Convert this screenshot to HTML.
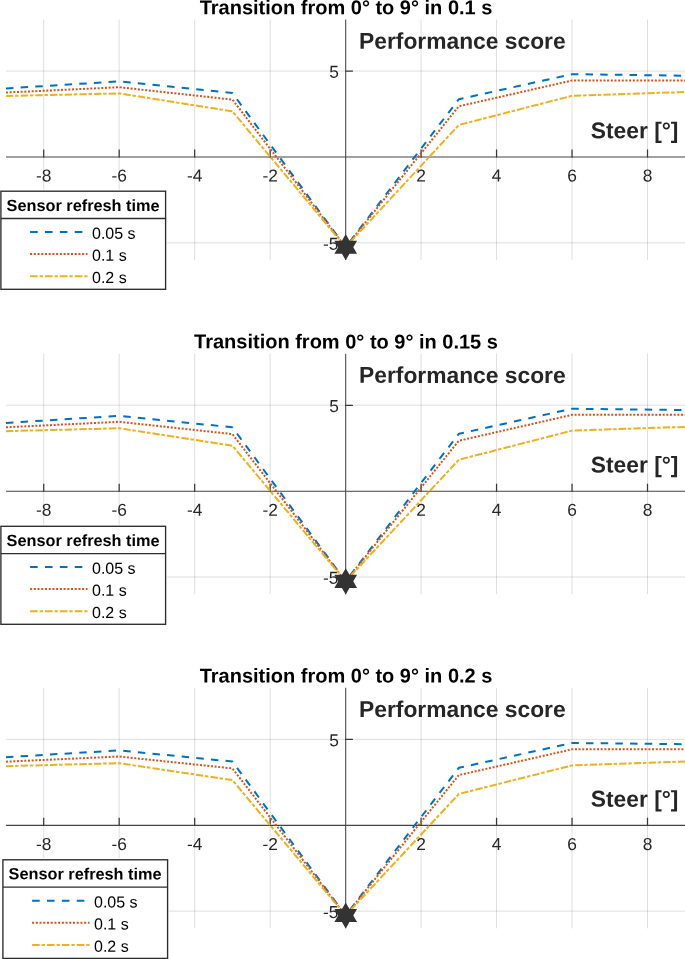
<!DOCTYPE html>
<html><head><meta charset="utf-8"><title>Performance score</title>
<style>
html,body{margin:0;padding:0;background:#fff;}
body{width:685px;height:959px;overflow:hidden;}
svg{display:block;font-family:"Liberation Sans",sans-serif;will-change:transform;}
.t{font-weight:bold;font-size:20px;fill:#000;text-anchor:middle;}
.tk{font-size:17.33px;fill:#262626;}
.lb{font-weight:bold;font-size:22.8px;fill:#262626;}
.lt{font-weight:bold;font-size:16.3px;fill:#000;}
.le{font-size:16px;fill:#000;}
</style></head><body>
<svg width="685" height="959" viewBox="0 0 685 959">
<rect width="685" height="959" fill="#fff"/>
<g>
<path d="M43.71 19.55V260.00M119.18 19.55V260.00M194.66 19.55V260.00M270.13 19.55V260.00M421.09 19.55V260.00M496.56 19.55V260.00M572.04 19.55V260.00M647.51 19.55V260.00" stroke="#262626" stroke-opacity="0.15" stroke-width="1.0" fill="none"/>
<path d="M5.97 71.07H685M5.97 242.82H685" stroke="#262626" stroke-opacity="0.15" stroke-width="1.0" fill="none"/>
<text class="t" x="346.01" y="14.25" transform="rotate(0.03 346.0 14.2)">Transition from 0° to 9° in 0.1 s</text>
<path d="M5.97 157.05H685M345.70 19.55V260.00" stroke="#444" stroke-width="1.05" fill="none"/>
<path d="M43.71 157.55V149.55M119.18 157.55V149.55M194.66 157.55V149.55M270.13 157.55V149.55M421.09 157.55V149.55M496.56 157.55V149.55M572.04 157.55V149.55M647.51 157.55V149.55M345.20 71.15H352.90M345.20 242.91H352.90" stroke="#383838" stroke-width="1.25" fill="none"/>
<text class="tk" text-anchor="middle" x="43.71" y="181.60" transform="rotate(0.03 43.7 181.6)">-8</text>
<text class="tk" text-anchor="middle" x="119.18" y="181.60" transform="rotate(0.03 119.2 181.6)">-6</text>
<text class="tk" text-anchor="middle" x="194.66" y="181.60" transform="rotate(0.03 194.7 181.6)">-4</text>
<text class="tk" text-anchor="middle" x="270.13" y="181.60" transform="rotate(0.03 270.1 181.6)">-2</text>
<text class="tk" text-anchor="middle" x="421.09" y="181.60" transform="rotate(0.03 421.1 181.6)">2</text>
<text class="tk" text-anchor="middle" x="496.56" y="181.60" transform="rotate(0.03 496.6 181.6)">4</text>
<text class="tk" text-anchor="middle" x="572.04" y="181.60" transform="rotate(0.03 572.0 181.6)">6</text>
<text class="tk" text-anchor="middle" x="647.51" y="181.60" transform="rotate(0.03 647.5 181.6)">8</text>
<text class="tk" text-anchor="end" x="339.01" y="77.87" transform="rotate(0.03 339.0 77.9)">5</text>
<text class="tk" text-anchor="end" x="338.31" y="249.72" transform="rotate(0.03 338.3 249.7)">-5</text>
<text class="lb" x="359.10" y="48.77" transform="rotate(0.03 460.0 48.8)">Performance score</text>
<text class="lb" x="590.80" y="138.35" transform="rotate(0.03 634.0 138.3)">Steer [°]</text>
<polyline points="5.97,88.42 119.18,81.38 232.40,93.06 345.61,247.20 458.82,99.24 572.04,74.17 685.25,75.71" fill="none" stroke="#0072BD" stroke-width="2.0" stroke-dasharray="7.5 7.185" stroke-linejoin="round"/>
<polyline points="5.97,92.54 119.18,87.22 232.40,99.59 345.61,247.20 458.82,106.28 572.04,80.52 685.25,80.52" fill="none" stroke="#D95319" stroke-width="2.0" stroke-dasharray="2 1.671" stroke-linejoin="round"/>
<polyline points="5.97,95.98 119.18,93.40 232.40,111.33 345.61,247.20 458.82,125.00 572.04,95.81 685.25,92.03" fill="none" stroke="#EDB120" stroke-width="2.0" stroke-dasharray="7.4 1.7 3.5 2.085" stroke-linejoin="round"/>
<polygon points="345.71,234.10 349.49,240.65 357.05,240.65 353.27,247.20 357.05,253.75 349.49,253.75 345.71,260.30 341.93,253.75 334.37,253.75 338.15,247.20 334.37,240.65 341.93,240.65" fill="#333"/>
<rect x="0.9" y="191.2" width="164.7" height="98.1" fill="#fff" stroke="#fff" stroke-width="3.2"/>
<rect x="0.9" y="191.2" width="164.7" height="98.1" fill="#fff" stroke="#2c2c2c" stroke-width="1.35"/>
<path d="M0.9 218.5H165.6" stroke="#2c2c2c" stroke-width="1.35"/>
<text class="lt" x="6.60" y="211.10" transform="rotate(0.03 83.0 211.1)">Sensor refresh time</text>
<path d="M30.1 232.10H87.5" stroke="#0072BD" stroke-width="2.0" stroke-dasharray="7.6 7.28" fill="none"/>
<text class="le" x="92.00" y="238.80" transform="rotate(0.03 92.0 238.8)">0.05 s</text>
<path d="M30.1 254.00H87.5" stroke="#D95319" stroke-width="2.0" stroke-dasharray="2 1.72" fill="none"/>
<text class="le" x="92.00" y="260.70" transform="rotate(0.03 92.0 260.7)">0.1 s</text>
<path d="M30.1 276.20H87.5" stroke="#EDB120" stroke-width="2.0" stroke-dasharray="7.6 2 3.2 2.08" fill="none"/>
<text class="le" x="92.00" y="282.90" transform="rotate(0.03 92.0 282.9)">0.2 s</text>
</g>
<g>
<path d="M43.71 353.70V594.15M119.18 353.70V594.15M194.66 353.70V594.15M270.13 353.70V594.15M421.09 353.70V594.15M496.56 353.70V594.15M572.04 353.70V594.15M647.51 353.70V594.15" stroke="#262626" stroke-opacity="0.15" stroke-width="1.0" fill="none"/>
<path d="M5.97 405.22H685M5.97 576.97H685" stroke="#262626" stroke-opacity="0.15" stroke-width="1.0" fill="none"/>
<text class="t" x="346.01" y="348.40" transform="rotate(0.03 346.0 348.4)">Transition from 0° to 9° in 0.15 s</text>
<path d="M5.97 491.20H685M345.70 353.70V594.15" stroke="#444" stroke-width="1.05" fill="none"/>
<path d="M43.71 491.70V483.70M119.18 491.70V483.70M194.66 491.70V483.70M270.13 491.70V483.70M421.09 491.70V483.70M496.56 491.70V483.70M572.04 491.70V483.70M647.51 491.70V483.70M345.20 405.30H352.90M345.20 577.05H352.90" stroke="#383838" stroke-width="1.25" fill="none"/>
<text class="tk" text-anchor="middle" x="43.71" y="515.75" transform="rotate(0.03 43.7 515.8)">-8</text>
<text class="tk" text-anchor="middle" x="119.18" y="515.75" transform="rotate(0.03 119.2 515.8)">-6</text>
<text class="tk" text-anchor="middle" x="194.66" y="515.75" transform="rotate(0.03 194.7 515.8)">-4</text>
<text class="tk" text-anchor="middle" x="270.13" y="515.75" transform="rotate(0.03 270.1 515.8)">-2</text>
<text class="tk" text-anchor="middle" x="421.09" y="515.75" transform="rotate(0.03 421.1 515.8)">2</text>
<text class="tk" text-anchor="middle" x="496.56" y="515.75" transform="rotate(0.03 496.6 515.8)">4</text>
<text class="tk" text-anchor="middle" x="572.04" y="515.75" transform="rotate(0.03 572.0 515.8)">6</text>
<text class="tk" text-anchor="middle" x="647.51" y="515.75" transform="rotate(0.03 647.5 515.8)">8</text>
<text class="tk" text-anchor="end" x="339.01" y="412.02" transform="rotate(0.03 339.0 412.0)">5</text>
<text class="tk" text-anchor="end" x="338.31" y="583.87" transform="rotate(0.03 338.3 583.9)">-5</text>
<text class="lb" x="359.10" y="382.92" transform="rotate(0.03 460.0 382.9)">Performance score</text>
<text class="lb" x="590.80" y="472.50" transform="rotate(0.03 634.0 472.5)">Steer [°]</text>
<polyline points="5.97,422.92 119.18,415.87 232.40,427.29 345.61,581.35 458.82,433.80 572.04,408.73 685.25,410.03" fill="none" stroke="#0072BD" stroke-width="2.0" stroke-dasharray="7.5 7.185" stroke-linejoin="round"/>
<polyline points="5.97,427.29 119.18,421.80 232.40,434.08 345.61,581.35 458.82,440.73 572.04,414.84 685.25,414.84" fill="none" stroke="#D95319" stroke-width="2.0" stroke-dasharray="2 1.671" stroke-linejoin="round"/>
<polyline points="5.97,431.16 119.18,428.24 232.40,445.67 345.61,581.35 458.82,459.74 572.04,430.64 685.25,426.87" fill="none" stroke="#EDB120" stroke-width="2.0" stroke-dasharray="7.4 1.7 3.5 2.085" stroke-linejoin="round"/>
<polygon points="345.71,568.25 349.49,574.80 357.05,574.80 353.27,581.35 357.05,587.90 349.49,587.90 345.71,594.45 341.93,587.90 334.37,587.90 338.15,581.35 334.37,574.80 341.93,574.80" fill="#333"/>
<rect x="0.9" y="526.3" width="164.7" height="98.0" fill="#fff" stroke="#fff" stroke-width="3.2"/>
<rect x="0.9" y="526.3" width="164.7" height="98.0" fill="#fff" stroke="#2c2c2c" stroke-width="1.35"/>
<path d="M0.9 553.6H165.6" stroke="#2c2c2c" stroke-width="1.35"/>
<text class="lt" x="6.60" y="546.10" transform="rotate(0.03 83.0 546.1)">Sensor refresh time</text>
<path d="M30.1 567.10H87.5" stroke="#0072BD" stroke-width="2.0" stroke-dasharray="7.6 7.28" fill="none"/>
<text class="le" x="92.00" y="573.80" transform="rotate(0.03 92.0 573.8)">0.05 s</text>
<path d="M30.1 589.00H87.5" stroke="#D95319" stroke-width="2.0" stroke-dasharray="2 1.72" fill="none"/>
<text class="le" x="92.00" y="595.70" transform="rotate(0.03 92.0 595.7)">0.1 s</text>
<path d="M30.1 611.20H87.5" stroke="#EDB120" stroke-width="2.0" stroke-dasharray="7.6 2 3.2 2.08" fill="none"/>
<text class="le" x="92.00" y="617.90" transform="rotate(0.03 92.0 617.9)">0.2 s</text>
</g>
<g>
<path d="M43.71 687.85V928.30M119.18 687.85V928.30M194.66 687.85V928.30M270.13 687.85V928.30M421.09 687.85V928.30M496.56 687.85V928.30M572.04 687.85V928.30M647.51 687.85V928.30" stroke="#262626" stroke-opacity="0.15" stroke-width="1.0" fill="none"/>
<path d="M5.97 739.38H685M5.97 911.12H685" stroke="#262626" stroke-opacity="0.15" stroke-width="1.0" fill="none"/>
<text class="t" x="346.01" y="682.55" transform="rotate(0.03 346.0 682.5)">Transition from 0° to 9° in 0.2 s</text>
<path d="M5.97 825.35H685M345.70 687.85V928.30" stroke="#444" stroke-width="1.05" fill="none"/>
<path d="M43.71 825.85V817.85M119.18 825.85V817.85M194.66 825.85V817.85M270.13 825.85V817.85M421.09 825.85V817.85M496.56 825.85V817.85M572.04 825.85V817.85M647.51 825.85V817.85M345.20 739.46H352.90M345.20 911.21H352.90" stroke="#383838" stroke-width="1.25" fill="none"/>
<text class="tk" text-anchor="middle" x="43.71" y="849.90" transform="rotate(0.03 43.7 849.9)">-8</text>
<text class="tk" text-anchor="middle" x="119.18" y="849.90" transform="rotate(0.03 119.2 849.9)">-6</text>
<text class="tk" text-anchor="middle" x="194.66" y="849.90" transform="rotate(0.03 194.7 849.9)">-4</text>
<text class="tk" text-anchor="middle" x="270.13" y="849.90" transform="rotate(0.03 270.1 849.9)">-2</text>
<text class="tk" text-anchor="middle" x="421.09" y="849.90" transform="rotate(0.03 421.1 849.9)">2</text>
<text class="tk" text-anchor="middle" x="496.56" y="849.90" transform="rotate(0.03 496.6 849.9)">4</text>
<text class="tk" text-anchor="middle" x="572.04" y="849.90" transform="rotate(0.03 572.0 849.9)">6</text>
<text class="tk" text-anchor="middle" x="647.51" y="849.90" transform="rotate(0.03 647.5 849.9)">8</text>
<text class="tk" text-anchor="end" x="339.01" y="746.17" transform="rotate(0.03 339.0 746.2)">5</text>
<text class="tk" text-anchor="end" x="338.31" y="918.02" transform="rotate(0.03 338.3 918.0)">-5</text>
<text class="lb" x="359.10" y="717.07" transform="rotate(0.03 460.0 717.1)">Performance score</text>
<text class="lb" x="590.80" y="806.65" transform="rotate(0.03 634.0 806.6)">Steer [°]</text>
<polyline points="5.97,757.24 119.18,750.37 232.40,761.53 345.61,915.50 458.82,767.83 572.04,742.98 685.25,744.18" fill="none" stroke="#0072BD" stroke-width="2.0" stroke-dasharray="7.5 7.185" stroke-linejoin="round"/>
<polyline points="5.97,761.70 119.18,756.55 232.40,768.40 345.61,915.50 458.82,775.10 572.04,749.34 685.25,749.34" fill="none" stroke="#D95319" stroke-width="2.0" stroke-dasharray="2 1.671" stroke-linejoin="round"/>
<polyline points="5.97,766.17 119.18,763.16 232.40,780.08 345.61,915.50 458.82,793.99 572.04,765.40 685.25,761.53" fill="none" stroke="#EDB120" stroke-width="2.0" stroke-dasharray="7.4 1.7 3.5 2.085" stroke-linejoin="round"/>
<polygon points="345.71,902.40 349.49,908.95 357.05,908.95 353.27,915.50 357.05,922.05 349.49,922.05 345.71,928.60 341.93,922.05 334.37,922.05 338.15,915.50 334.37,908.95 341.93,908.95" fill="#333"/>
<rect x="2.9" y="859.8" width="164.7" height="98.6" fill="#fff" stroke="#fff" stroke-width="3.2"/>
<rect x="2.9" y="859.8" width="164.7" height="98.6" fill="#fff" stroke="#2c2c2c" stroke-width="1.35"/>
<path d="M2.9 887.1H167.6" stroke="#2c2c2c" stroke-width="1.35"/>
<text class="lt" x="8.60" y="879.40" transform="rotate(0.03 85.0 879.4)">Sensor refresh time</text>
<path d="M32.1 900.85H89.5" stroke="#0072BD" stroke-width="2.0" stroke-dasharray="7.6 7.28" fill="none"/>
<text class="le" x="94.00" y="907.55" transform="rotate(0.03 94.0 907.6)">0.05 s</text>
<path d="M32.1 922.75H89.5" stroke="#D95319" stroke-width="2.0" stroke-dasharray="2 1.72" fill="none"/>
<text class="le" x="94.00" y="929.45" transform="rotate(0.03 94.0 929.5)">0.1 s</text>
<path d="M32.1 944.95H89.5" stroke="#EDB120" stroke-width="2.0" stroke-dasharray="7.6 2 3.2 2.08" fill="none"/>
<text class="le" x="94.00" y="951.65" transform="rotate(0.03 94.0 951.7)">0.2 s</text>
</g>
</svg></body></html>
